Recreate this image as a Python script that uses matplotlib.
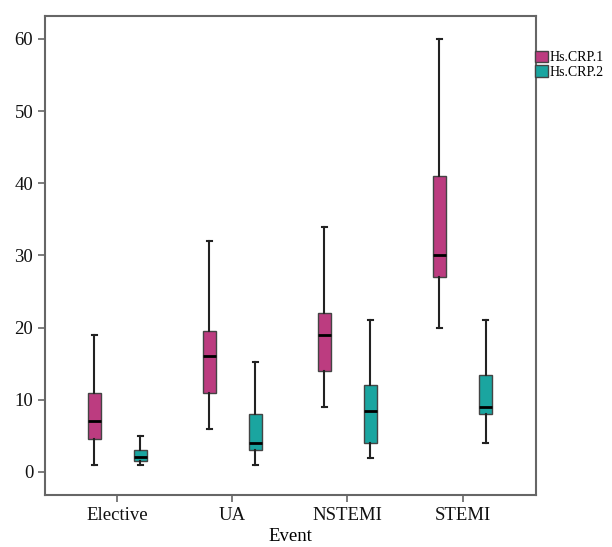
import matplotlib
matplotlib.use("Agg")
import matplotlib.pyplot as plt
from matplotlib.patches import Patch

categories = ["Elective", "UA", "NSTEMI", "STEMI"]
series_names = ["Hs.CRP.1", "Hs.CRP.2"]
# (whislo, q1, med, q3, whishi) per category
crp1 = [(1, 4.5, 7, 11, 19), (6, 11, 16, 19.5, 32), (9, 14, 19, 22, 34), (20, 27, 30, 41, 60)]
crp2 = [(1, 1.5, 2.1, 3, 5), (1, 3, 4, 8, 15.2), (2, 4, 8.4, 12, 21), (4, 8, 9, 13.5, 21)]
yticks = [0, 10, 20, 30, 40, 50, 60]

colors = ["#BC3C80", "#1AA5A0"]
plt.rcParams['font.family'] = ['Liberation Serif', 'DejaVu Serif']

fig = plt.figure(figsize=(6.12, 5.47), dpi=100)
ax = fig.add_axes([0.0735, 0.095, 0.8025, 0.876])

offsets = [-0.2, 0.2]
for s, (data, col) in enumerate(zip([crp1, crp2], colors)):
    stats = []
    for lo, q1, med, q3, hi in data:
        stats.append(dict(whislo=lo, q1=q1, med=med, q3=q3, whishi=hi, fliers=[]))
    pos = [i + offsets[s] for i in range(len(categories))]
    ax.bxp(stats, positions=pos, widths=0.11, patch_artist=True, showfliers=False,
           boxprops=dict(facecolor=col, edgecolor="#444444", linewidth=1),
           medianprops=dict(color="black", linewidth=2),
           whiskerprops=dict(color="#222222", linewidth=1.5),
           capprops=dict(color="#222222", linewidth=1.5), capwidths=0.05)

ax.set_xlim(-0.63, 3.64)
ax.set_ylim(-3.2, 63.2)
ax.set_xticks(range(len(categories)))
ax.set_xticklabels(categories, fontsize=13.5)
ax.set_yticks(yticks)
ax.set_yticklabels([str(t) for t in yticks], fontsize=13.5)
ax.set_xlabel("Event", fontsize=13.5, labelpad=3)
for sp in ax.spines.values():
    sp.set_color("#666666")
    sp.set_linewidth(1.5)
ax.tick_params(colors="#666666", labelcolor="#111111", length=5, width=1.2)

handles = [Patch(facecolor=c, edgecolor="#444444", label=n) for c, n in zip(colors, series_names)]
fig.legend(handles=handles, loc="upper left", bbox_to_anchor=(0.87, 0.912), frameon=False,
           fontsize=10, handlelength=0.9, handleheight=0.9, handletextpad=0.1, labelspacing=0.05,
           borderpad=0.2, borderaxespad=0.0)

fig.savefig("out.png", dpi=100)
